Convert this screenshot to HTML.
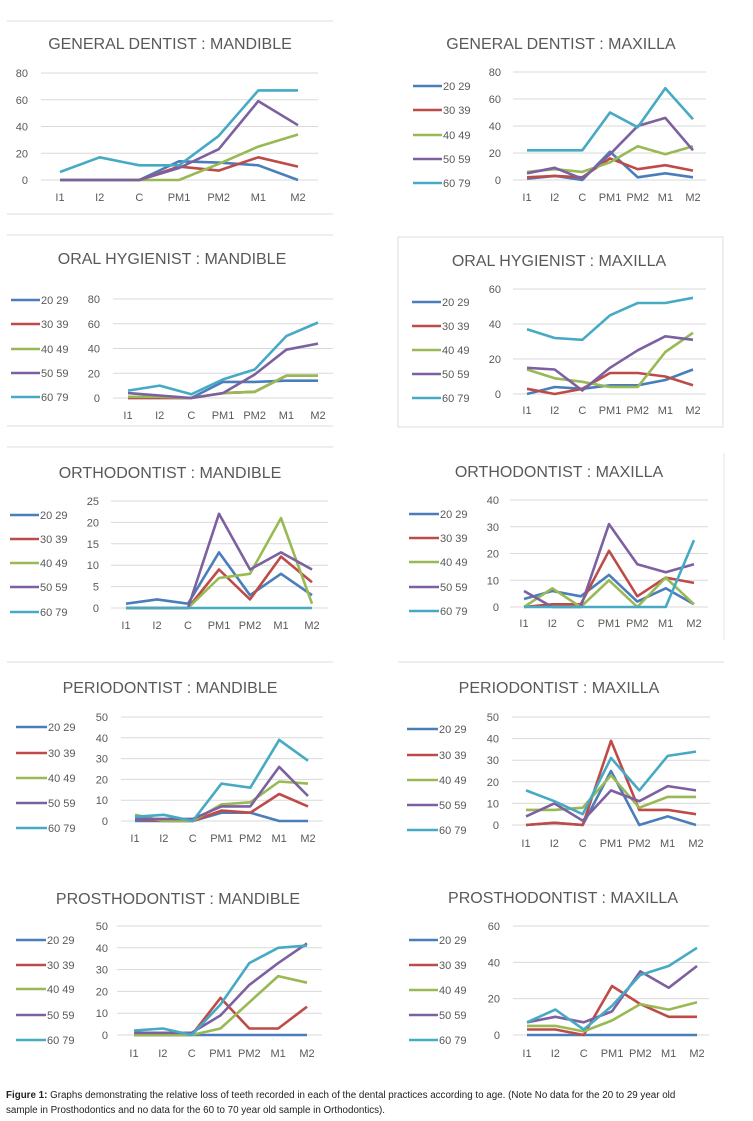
<!DOCTYPE html>
<html><head><meta charset="utf-8">
<style>
html,body{margin:0;padding:0;background:#fff;}
body{width:753px;height:1121px;position:relative;overflow:hidden;font-family:"Liberation Sans",sans-serif;}
svg{position:absolute;left:0;top:0;}
#caption{position:absolute;left:6px;top:1088px;width:695px;font-size:9.8px;line-height:15px;color:#222;letter-spacing:0;}
</style></head>
<body>
<svg id="fig" width="753" height="1121" viewBox="0 0 753 1121"></svg>
<div id="caption"><b>Figure 1:</b> Graphs demonstrating the relative loss of teeth recorded in each of the dental practices according to age. (Note No data for the 20 to 29 year old sample in Prosthodontics and no data for the 60 to 70 year old sample in Orthodontics).</div>
<script>
const categories = ["I1","I2","C","PM1","PM2","M1","M2"];
const seriesNames = ["20 29","30 39","40 49","50 59","60 79"];
const seriesColors = ["#4a7ebb","#be4b48","#98b954","#7d60a0","#46aac5"];

const gdMand = [[0,0,0,14,13,11,0],[0,0,0,10,7,17,10],[0,0,0,0,12,25,34],[0,0,0,9,23,59,41],[6,17,11,11,33,67,67]];
const ohMand = [[0,0,0,13,13,14,14],[0,0,0,4,5,18,18],[1,1,0,4,5,18,18],[4,2,0,4,19,39,44],[6,10,3,15,23,50,61]];
const gdMax = [[1,3,0,21,2,5,2],[2,3,2,16,8,11,7],[6,8,6,13,25,19,25],[5,9,1,19,40,46,22],[22,22,22,50,39,68,45]];
const ohMax = [[0,4,3,5,5,8,14],[3,0,3,12,12,10,5],[14,9,7,4,4,24,35],[15,14,2,15,25,33,31],[37,32,31,45,52,52,55]];
const orMand = [[1,2,1,13,3,8,3],[0,0,0,9,2,12,6],[0,0,0,7,8,21,1],[0,0,0,22,9,13,9],[0,0,0,0,0,0,0]];
const peMand = [[0,0,0,4,4,0,0],[1,0,0,5,4,13,7],[3,0,0,8,9,19,18],[1,1,1,7,7,26,12],[2,3,0,18,16,39,29]];
const orMax = [[3,6,4,12,2,7,1],[0,1,1,21,4,11,9],[0,7,0,10,0,11,1],[6,0,0,31,16,13,16],[0,0,0,0,0,0,25]];
const peMax = [[0,1,0,25,0,4,0],[0,1,0,39,7,7,5],[7,7,8,23,8,13,13],[4,10,2,16,11,18,16],[16,11,5,31,16,32,34]];
const prMand = [[0,0,0,0,0,0,0],[0,0,0,17,3,3,13],[0,0,0,3,15,27,24],[1,1,1,9,23,33,42],[2,3,0,14,33,40,41]];
const prMax = [[0,0,0,0,0,0,0],[3,3,0,27,17,10,10],[5,5,2,8,17,14,18],[7,10,7,13,35,26,38],[7,14,3,16,33,38,48]];

const gdMandTicks=[0,20,40,60,80], ohMandTicks=[0,20,40,60,80], gdMaxTicks=[0,20,40,60,80], ohMaxTicks=[0,20,40,60];
const orMandTicks=[0,5,10,15,20,25], peMandTicks=[0,10,20,30,40,50], orMaxTicks=[0,10,20,30,40];
const peMaxTicks=[0,10,20,30,40,50], prMandTicks=[0,10,20,30,40,50], prMaxTicks=[0,20,40,60];

const panels = [
 {name:"general-dentist-mandible",title:"GENERAL DENTIST : MANDIBLE",tx:170,ty:49,data:gdMand,ticks:gdMandTicks,yTop:73,yZero:180,gx0:41,gx1:318,cx0:60,cx1:298,tr:28,xl:201,leg:null},
 {name:"oral-hygienist-mandible",title:"ORAL HYGIENIST : MANDIBLE",tx:172,ty:264,data:ohMand,ticks:ohMandTicks,yTop:299,yZero:398,gx0:113,gx1:333,cx0:128,cx1:318,tr:100,xl:419,leg:{x0:11,x1:40,ys:[300,324,349,373,397]}},
 {name:"general-dentist-maxilla",title:"GENERAL DENTIST : MAXILLA",tx:561,ty:49,data:gdMax,ticks:gdMaxTicks,yTop:72,yZero:180,gx0:513,gx1:706,cx0:527,cx1:693,tr:501,xl:201,leg:{x0:413,x1:442,ys:[86,110,135,159,183]}},
 {name:"oral-hygienist-maxilla",title:"ORAL HYGIENIST : MAXILLA",tx:559,ty:266,data:ohMax,ticks:ohMaxTicks,yTop:289,yZero:394,gx0:513,gx1:706,cx0:527,cx1:693,tr:501,xl:414,leg:{x0:412,x1:441,ys:[302,326,350,374,398]}},
 {name:"orthodontist-mandible",title:"ORTHODONTIST : MANDIBLE",tx:170,ty:478,data:orMand,ticks:orMandTicks,yTop:501,yZero:608,gx0:111,gx1:328,cx0:126,cx1:312,tr:99,xl:629,leg:{x0:10,x1:39,ys:[515,539,563,587,612]}},
 {name:"periodontist-mandible",title:"PERIODONTIST : MANDIBLE",tx:170,ty:693,data:peMand,ticks:peMandTicks,yTop:717,yZero:821,gx0:121,gx1:323,cx0:135,cx1:308,tr:108,xl:842,leg:{x0:16,x1:47,ys:[727,753,778,803,828]}},
 {name:"orthodontist-maxilla",title:"ORTHODONTIST : MAXILLA",tx:559,ty:477,data:orMax,ticks:orMaxTicks,yTop:500,yZero:607,gx0:510,gx1:708,cx0:524,cx1:694,tr:499,xl:627,leg:{x0:409,x1:439,ys:[514,538,562,587,611]}},
 {name:"periodontist-maxilla",title:"PERIODONTIST : MAXILLA",tx:559,ty:693,data:peMax,ticks:peMaxTicks,yTop:717,yZero:825,gx0:512,gx1:710,cx0:526,cx1:696,tr:499,xl:847,leg:{x0:407,x1:438,ys:[729,755,780,805,830]}},
 {name:"prosthodontist-mandible",title:"PROSTHODONTIST :  MANDIBLE",tx:178,ty:904,data:prMand,ticks:prMandTicks,yTop:926,yZero:1035,gx0:117,gx1:322,cx0:134,cx1:307,tr:108,xl:1057,leg:{x0:16,x1:46,ys:[940,965,989,1015,1040]}},
 {name:"prosthodontist-maxilla",title:"PROSTHODONTIST : MAXILLA",tx:563,ty:903,data:prMax,ticks:prMaxTicks,yTop:926,yZero:1035,gx0:513,gx1:709,cx0:527,cx1:697,tr:500,xl:1057,leg:{x0:409,x1:438,ys:[940,965,990,1015,1040]}}
];

const NS="http://www.w3.org/2000/svg";
const svg=document.getElementById('fig');
function mk(tag,attrs,parent){const e=document.createElementNS(NS,tag);for(const k in attrs)e.setAttribute(k,attrs[k]);(parent||svg).appendChild(e);return e;}

const seps=[[7,21,333,21],[7,214,333,214],[7,235,333,235],[7,426,333,426],[7,447,333,447],[7,662,333,662],[398,662,724,662]];
seps.forEach(s=>{const l=mk('line',{x1:s[0],y1:s[1],x2:s[2],y2:s[3],stroke:'#e3e3e3','stroke-width':1.2});

});
const box=mk('rect',{x:398,y:237,width:325,height:190,fill:'none',stroke:'#dcdcdc','stroke-width':1});


const vl=mk('line',{x1:724,y1:453,x2:724,y2:640,stroke:'#e3e3e3','stroke-width':1});



panels.forEach(p=>{
  const g=mk('g',{});
  
  
  const ymax=p.ticks[p.ticks.length-1];
  const yS=v=>p.yZero-(v/ymax)*(p.yZero-p.yTop);
  const xS=i=>p.cx0+i*(p.cx1-p.cx0)/(categories.length-1);
  const t=mk('text',{x:p.tx,y:p.ty,'text-anchor':'middle','font-size':16,fill:'#595959'},g);
  t.textContent=p.title;
  
  
  p.ticks.forEach(v=>{
    const gl=mk('line',{x1:p.gx0,x2:p.gx1,y1:yS(v),y2:yS(v),stroke:'#d9d9d9','stroke-width':1},g);
    
    
    const tl=mk('text',{x:p.tr,y:yS(v)+4,'text-anchor':'end','font-size':11,fill:'#595959'},g);
    tl.textContent=v;
    
    
  });
  categories.forEach((c,i)=>{
    const xl=mk('text',{x:xS(i),y:p.xl,'text-anchor':'middle','font-size':11,fill:'#595959'},g);
    xl.textContent=c;
    
    
  });
  p.data.forEach((vals,si)=>{
    const pts=vals.map((v,i)=>xS(i).toFixed(1)+','+yS(v).toFixed(1)).join(' ');
    const pl=mk('polyline',{points:pts,fill:'none',stroke:seriesColors[si],'stroke-width':2.6,'stroke-linejoin':'round'},g);
    
    
  });
  if(p.leg){
    seriesNames.forEach((n,si)=>{
      const y=p.leg.ys[si];
      const ll=mk('line',{x1:p.leg.x0,x2:p.leg.x1,y1:y,y2:y,stroke:seriesColors[si],'stroke-width':2.6},g);
      
      
      const lt=mk('text',{x:p.leg.x1+1,y:y+4,'font-size':11,fill:'#595959'},g);
      lt.textContent=n;
      
      
    });
  }
});
</script>
</body></html>
